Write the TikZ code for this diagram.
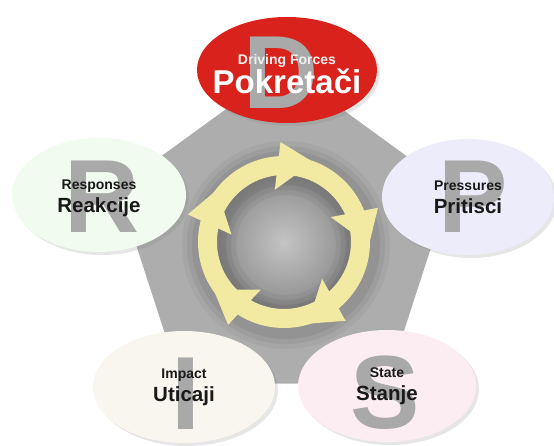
\documentclass[tikz,border=0pt]{standalone}
\usepackage{fontspec}
\setmainfont{Liberation Sans}
\usetikzlibrary{shapes.geometric,shadows}

\definecolor{dred}{HTML}{D9221C}
\definecolor{rgreen}{HTML}{F1FBEF}
\definecolor{plilac}{HTML}{ECECFA}
\definecolor{icream}{HTML}{F9F5EF}
\definecolor{spink}{HTML}{FBEDF1}
\definecolor{wheel}{HTML}{F2E9A2}
\definecolor{penta}{HTML}{ADADAD}
\definecolor{hub}{HTML}{C4C4C4}
\definecolor{letter}{HTML}{A9A9A9}

\newcommand{\dpsir}{
\def\cx{284}    % centre of pentagon and wheel
\def\cy{242}
\def\rp{175}    % pentagon radius
\def\rin{67}
\def\rout{86}
}
\newcommand{\twolines}[2]{{\fontsize{14}{16}\selectfont #1}\\#2}

\begin{document}
\begin{tikzpicture}[x=1pt,y=-1pt,
  oval/.style={ellipse, fill=#1, inner sep=0pt,
    minimum width=178pt, minimum height=112pt,
    drop shadow={shadow xshift=3pt, shadow yshift=-3pt, opacity=0.2}},
  bigletter/.style={text=letter, inner sep=0pt, font=\bfseries\fontsize{104}{104}\selectfont},
  txt/.style={align=center, text=black!90, font=\bfseries\fontsize{20.5}{23}\selectfont}]
  \dpsir
  \useasboundingbox (0,0) rectangle (554,446);
%
  \fill[penta, shift={(\cx,\cy)}] (-90:\rp) -- (-18:\rp) -- (54:\rp) -- (126:\rp) -- (198:\rp) -- cycle;
  \shade[inner color=hub, outer color=penta!82!black] (\cx,\cy) circle[radius=\rin];
  \foreach \w/\o in {54/0.04, 44/0.05, 34/0.06}
    \draw[black, opacity=\o, line width=\w pt] (\cx+2,\cy+3) circle[radius=77];
%
  % wheel with five heads, clockwise
  \fill[wheel, even odd rule] (\cx,\cy) circle[radius=\rout] (\cx,\cy) circle[radius=\rin];
  \foreach \a in {-92,-20,52,124,196}
    \fill[wheel, shift={(\cx,\cy)}] (\a:100) -- (\a-8:53) -- (\a+22:85) -- cycle;
%
  \node[oval=dred,   minimum width=180pt, minimum height=106pt] (D) at (287,70) {};
  \node[oval=rgreen, minimum width=174pt, minimum height=114pt] (R) at (99,195) {};
  \node[oval=plilac, minimum width=172pt, minimum height=116pt] (P) at (468,197) {};
  \node[oval=icream, minimum width=182pt, minimum height=112pt] (I) at (184,387) {};
  \node[oval=spink,  minimum width=178pt, minimum height=112pt] (S) at (387,386) {};
%
  \node[bigletter] (Dl) at ([xshift=-6pt,yshift=-3pt]D.center) {D};
  \node[bigletter] (Rl) at ([xshift=3pt,yshift=-2pt]R.center) {R};
  \node[bigletter] (Pl) at ([xshift=5pt]P.center) {P};
  \node[bigletter] (Il) at ([xshift=2pt,yshift=-7pt]I.center) {I};
  \node[bigletter] (Sl) at ([xshift=-2pt,yshift=-7pt]S.center) {S};
%
  \node[txt, text=white, font=\bfseries\fontsize{33}{29}\selectfont] (Dt) at ([yshift=-4pt]D.center)
    {{\color{white!88!gray}\fontsize{14}{16}\selectfont Driving Forces}\\Pokretači};
  \node[txt] (Rt) at ([yshift=-3pt]R.center) {\twolines{Responses}{Reakcije}};
  \node[txt] (Pt) at (P) {\twolines{Pressures}{Pritisci}};
  \node[txt] (It) at (I) {\twolines{Impact}{Uticaji}};
  \node[txt] (St) at (S) {\twolines{State}{Stanje}};
\end{tikzpicture}
\end{document}
